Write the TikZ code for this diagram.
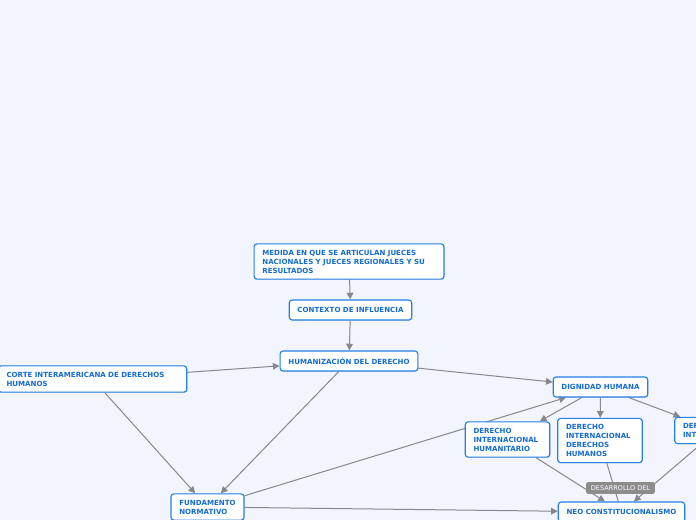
\documentclass[tikz,border=0pt]{standalone}
\usepackage{fontspec}
\setmainfont{DejaVu Sans}
\usetikzlibrary{arrows.meta,backgrounds,shadows}
\definecolor{mapBack}{RGB}{242,245,253}
\definecolor{mapBlue}{RGB}{35,128,228}
\definecolor{mapText}{RGB}{20,108,210}
\definecolor{mapLine}{RGB}{135,135,140}
\definecolor{mapLabel}{RGB}{140,140,140}

\begin{document}
\begin{tikzpicture}[x=0.75pt,y=-0.75pt,
  topic/.style={draw=mapBlue,line width=0.85pt,fill=white,rounded corners=2.2pt,
    text=mapText,font=\fontsize{5.3}{6.75}\selectfont\bfseries,align=left,
    inner xsep=6.2pt,inner ysep=4.5pt,minimum height=15pt,
    drop shadow={shadow xshift=0.5pt,shadow yshift=-0.6pt,opacity=0.2}},
  link/.style={draw=mapLine,line width=0.75pt,-{Triangle[length=5pt,width=5pt]}},
  tag/.style={fill=mapLabel,text=white,rounded corners=1.5pt,
    font=\fontsize{4.9}{6}\selectfont,inner xsep=3.5pt,inner ysep=2.6pt}]
  \clip (0,0) rectangle (696,520);
  \begin{scope}[on background layer]
    \fill[mapBack] (0,0) rectangle (696,520);
  \end{scope}
  % topics
  \node[topic,text width=130pt] (medida) at (349,261.5){MEDIDA EN QUE SE ARTICULAN JUECES\\NACIONALES Y JUECES REGIONALES Y SU\\RESULTADOS};
  \node[topic] (contexto) at (350.5,310){CONTEXTO DE INFLUENCIA};
  \node[topic] (humaniza) at (349,361){HUMANIZACIÓN DEL DERECHO};
  \node[topic,text width=129pt] (corte) at (92.5,379){CORTE INTERAMERICANA DE DERECHOS\\HUMANOS};
  \node[topic] (dignidad) at (600.5,387){DIGNIDAD HUMANA};
  \node[topic,text width=51pt] (dih) at (507.5,439.5){DERECHO\\INTERNACIONAL\\HUMANITARIO};
  \node[topic,text width=51pt] (didh) at (600,440.5){DERECHO\\INTERNACIONAL\\DERECHOS\\HUMANOS};
  \node[topic,text width=51pt] (dint) at (717,430.5){DERECHO\\INTERNACIONAL};
  \node[topic] (fundamento) at (207.5,507){FUNDAMENTO\\NORMATIVO};
  \node[topic] (neo) at (621.5,512){NEO CONSTITUCIONALISMO};
  \node[tag] (desarrollo) at (620.5,488){DESARROLLO DEL};
  % connectors
  \begin{scope}[on background layer]
    \draw[link] (medida) -- (contexto);
    \draw[link] (contexto) -- (humaniza);
    \draw[link] (corte) -- (humaniza);
    \draw[link] (humaniza) -- (dignidad);
    \draw[link] (humaniza) -- (fundamento);
    \draw[link] (corte) -- (fundamento);
    \draw[link] (fundamento) -- (dignidad);
    \draw[link] (fundamento) -- (neo);
    \draw[link] (dignidad) -- (dih);
    \draw[link] (dignidad) -- (didh);
    \draw[link] (dignidad) -- (dint);
    \draw[link] (dih) -- (neo);
    \draw[link] (dint) -- (neo);
    \draw[draw=mapLine,line width=0.75pt] (didh) -- (neo);
  \end{scope}
\end{tikzpicture}
\end{document}
